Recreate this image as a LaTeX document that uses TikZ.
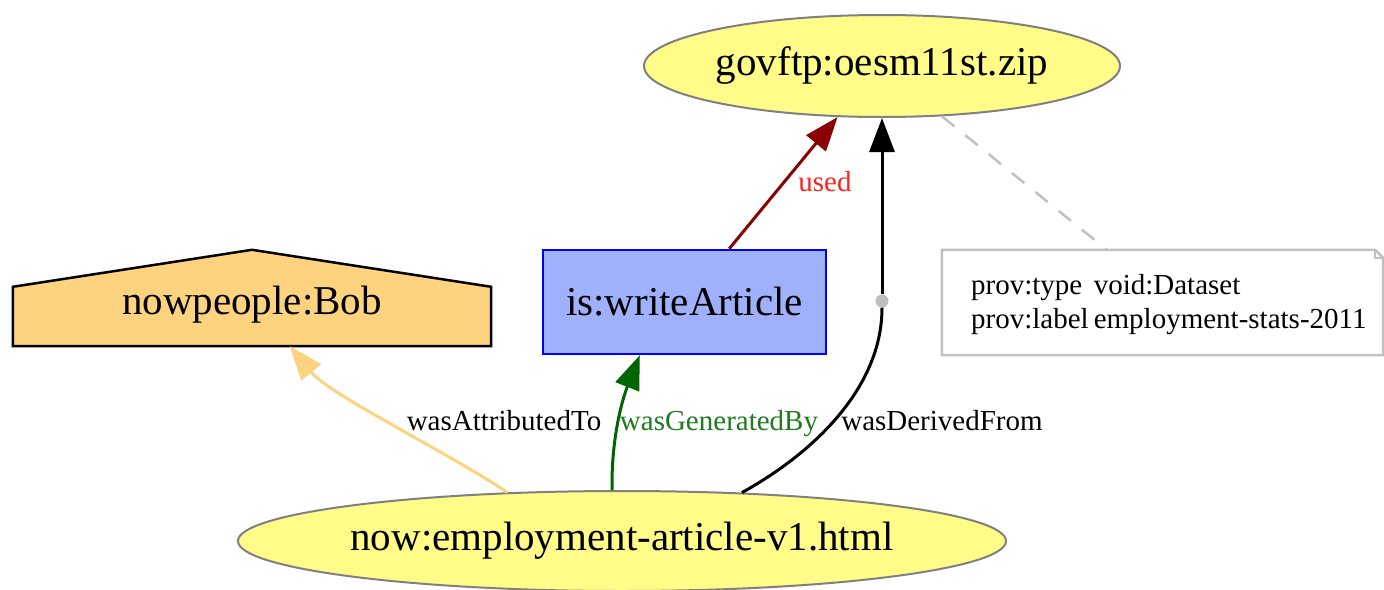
\documentclass[tikz,border=0pt]{standalone}
\usepackage{fontspec}
\setmainfont{Liberation Serif}
\usetikzlibrary{shapes.geometric,arrows.meta,calc}

\definecolor{entityfill}{HTML}{FFFC87}
\definecolor{entityline}{HTML}{808080}
\definecolor{agentfill}{HTML}{FED37F}
\definecolor{activityfill}{HTML}{9FB1FC}
\definecolor{activityline}{HTML}{0000FF}
\definecolor{usedcol}{HTML}{8B0000}
\definecolor{usedlabel}{HTML}{FF2020}
\definecolor{gencol}{HTML}{006400}
\definecolor{genlabel}{HTML}{1E7B1E}
\definecolor{notecol}{HTML}{C0C0C0}
\definecolor{dotcol}{HTML}{BEBEBE}

\newcommand\provnodefont{\fontsize{41}{49}\selectfont}
\newcommand\provedgefont{\fontsize{29}{34}\selectfont}

\tikzset{
  entity/.style={ellipse, draw=entityline, fill=entityfill, line width=2pt,
    inner sep=0pt, font=\provnodefont, text height=28pt, text depth=9pt},
  activity/.style={rectangle, draw=activityline, fill=activityfill, line width=2.5pt,
    inner sep=0pt, font=\provnodefont},
  agentshape/.style={draw=black, fill=agentfill, line width=2.5pt, line join=miter},
  notebox/.style={rectangle, draw=none, inner sep=0pt, font=\provedgefont},
  noteline/.style={draw=notecol, fill=white, line width=2.5pt},
  edgelabel/.style={inner sep=0pt, font=\provedgefont, text height=20pt, text depth=6pt},
  tip/.style={-{Triangle[length=34pt,width=25pt]}},
  usededge/.style={draw=usedcol, line width=3pt, tip},
  genedge/.style={draw=gencol, line width=3pt, tip},
  attredge/.style={draw=agentfill, line width=3pt, tip},
  derivededge/.style={draw=black, line width=3pt},
  annotation/.style={draw=notecol, line width=2.5pt, dash pattern=on 16pt off 14pt},
}

\begin{document}
\begin{tikzpicture}[x=1pt, y=-1pt]
\useasboundingbox (0,0) rectangle (1384,589);

% entities
\node[entity, minimum width=476, minimum height=102] (gov) at (882,66) {govftp:oesm11st.zip};
\node[entity, minimum width=754, minimum height=100] (now) at (622,541) {now:employment-article-v1.html};

% activity
\node[activity, minimum width=283, minimum height=104] (act) at (684.5,302) {is:writeArticle};

% agent (house shape)
\node[inner sep=0pt, minimum width=478, minimum height=96] (bob) at (252,298) {};
\path[agentshape] (bob.south west) -- ($(bob.north west)+(0,37)$) -- (bob.north)
  -- ($(bob.north east)+(0,37)$) -- (bob.south east) -- cycle;
\node[inner sep=0pt, font=\provnodefont, text height=36pt, text depth=4pt] (bobtext) at (bob.center) {nowpeople:Bob};

% annotation note with folded corner
\node[notebox, minimum width=441, minimum height=105] (note) at (1162.5,302.5) {};
\path[noteline] (note.north west) -- ($(note.north east)+(-8,0)$) -- ($(note.north east)+(0,8)$)
  -- (note.south east) -- (note.south west) -- cycle;
\draw[draw=notecol, line width=1.5pt] ($(note.north east)+(-8,0)$) -- ($(note.north east)+(-8,8)$) -- ($(note.north east)+(0,8)$);
\node[notebox, anchor=west] (notetext) at (971,305) {%
  \begin{tabular}{@{}l@{\hspace{5pt}}l@{}}
  prov:type & void:Dataset\\
  prov:label & employment-stats-2011
  \end{tabular}};
\coordinate (notetop) at (1107,250);

% join point of the derivation
\node[circle, fill=dotcol, inner sep=0pt, minimum size=13] (dot) at (882,301) {};

% relations
\draw[usededge] (act.50) -- (gov.229);
\draw[genedge] (now.101) .. controls (611,440) and (622,400) .. (act.230);
\draw[attredge] (now.157) .. controls (440,448) and (330,395) .. (bob.-52);
\draw[derivededge] (now.22) .. controls (810,455) and (882,390) .. (dot.south);
\draw[derivededge, tip] (dot.north) -- (gov.south);
\draw[annotation] (gov.-40) -- (notetop);

% relation labels
\node[edgelabel, text=usedlabel] (lused) at (825,184) {used};
\node[edgelabel] (lattr) at (504,423) {wasAttributedTo};
\node[edgelabel, text=genlabel] (lgen) at (719,423) {wasGeneratedBy};
\node[edgelabel] (lder) at (942,423) {wasDerivedFrom};
\end{tikzpicture}
\end{document}
